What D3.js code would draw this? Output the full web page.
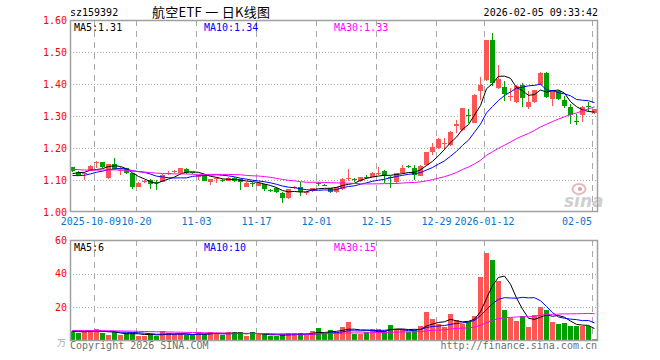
<!DOCTYPE html>
<html><head><meta charset="utf-8">
<script src="https://cdn.jsdelivr.net/npm/d3@7"></script>
<style>body{margin:0;background:#fff;} svg{display:block;}</style>
</head><body><svg id="c" width="660" height="360"></svg>
<script>
const dates = ["2025-09-25","2025-09-26","2025-09-29","2025-09-30","2025-10-09","2025-10-10","2025-10-13","2025-10-14","2025-10-15","2025-10-16","2025-10-17","2025-10-20","2025-10-21","2025-10-22","2025-10-23","2025-10-24","2025-10-27","2025-10-28","2025-10-29","2025-10-30","2025-10-31","2025-11-03","2025-11-04","2025-11-05","2025-11-06","2025-11-07","2025-11-10","2025-11-11","2025-11-12","2025-11-13","2025-11-14","2025-11-17","2025-11-18","2025-11-19","2025-11-20","2025-11-21","2025-11-24","2025-11-25","2025-11-26","2025-11-27","2025-11-28","2025-12-01","2025-12-02","2025-12-03","2025-12-04","2025-12-05","2025-12-08","2025-12-09","2025-12-10","2025-12-11","2025-12-12","2025-12-15","2025-12-16","2025-12-17","2025-12-18","2025-12-19","2025-12-22","2025-12-23","2025-12-24","2025-12-25","2025-12-26","2025-12-29","2025-12-30","2025-12-31","2026-01-05","2026-01-06","2026-01-07","2026-01-08","2026-01-09","2026-01-12","2026-01-13","2026-01-14","2026-01-15","2026-01-16","2026-01-19","2026-01-20","2026-01-21","2026-01-22","2026-01-23","2026-01-26","2026-01-27","2026-01-28","2026-01-29","2026-01-30","2026-02-02","2026-02-03","2026-02-04","2026-02-05"];
const opens = [1.140,1.125,1.117,1.129,1.153,1.155,1.105,1.149,1.129,1.136,1.121,1.081,1.093,1.100,1.094,1.095,1.121,1.125,1.121,1.134,1.124,1.111,1.113,1.092,1.104,1.099,1.098,1.106,1.102,1.079,1.091,1.084,1.087,1.070,1.074,1.060,1.043,1.076,1.077,1.061,1.066,1.091,1.085,1.074,1.062,1.071,1.105,1.102,1.095,1.110,1.110,1.121,1.128,1.109,1.092,1.121,1.143,1.139,1.113,1.147,1.185,1.199,1.213,1.209,1.268,1.256,1.304,1.279,1.378,1.412,1.537,1.390,1.390,1.361,1.344,1.396,1.328,1.344,1.399,1.435,1.354,1.378,1.350,1.328,1.283,1.302,1.330,1.308];
const highs = [1.142,1.127,1.124,1.146,1.160,1.157,1.151,1.168,1.140,1.138,1.123,1.094,1.099,1.102,1.100,1.118,1.128,1.131,1.138,1.136,1.126,1.116,1.115,1.104,1.108,1.102,1.108,1.108,1.104,1.094,1.093,1.095,1.089,1.072,1.076,1.062,1.073,1.082,1.094,1.066,1.076,1.094,1.088,1.076,1.079,1.105,1.134,1.106,1.110,1.116,1.125,1.140,1.130,1.113,1.123,1.146,1.146,1.146,1.147,1.189,1.215,1.230,1.231,1.253,1.288,1.326,1.321,1.368,1.421,1.539,1.560,1.458,1.409,1.388,1.396,1.404,1.378,1.382,1.438,1.437,1.380,1.380,1.3625,1.337,1.305,1.331,1.344,1.323];
const lows = [1.124,1.114,1.100,1.128,1.138,1.138,1.102,1.132,1.115,1.119,1.071,1.079,1.090,1.072,1.069,1.093,1.115,1.122,1.119,1.119,1.118,1.100,1.096,1.083,1.092,1.095,1.096,1.094,1.069,1.077,1.077,1.082,1.066,1.064,1.058,1.027,1.041,1.072,1.050,1.054,1.064,1.081,1.080,1.058,1.058,1.069,1.098,1.093,1.093,1.103,1.108,1.115,1.091,1.076,1.088,1.119,1.138,1.099,1.111,1.145,1.178,1.197,1.194,1.207,1.247,1.254,1.277,1.277,1.350,1.410,1.394,1.383,1.347,1.347,1.342,1.328,1.323,1.342,1.396,1.355,1.331,1.350,1.324,1.276,1.272,1.281,1.3125,1.306];
const closes = [1.126,1.116,1.121,1.144,1.156,1.140,1.149,1.134,1.132,1.121,1.076,1.092,1.096,1.088,1.092,1.116,1.123,1.127,1.136,1.121,1.122,1.114,1.098,1.102,1.106,1.098,1.106,1.096,1.092,1.092,1.089,1.092,1.072,1.069,1.060,1.043,1.071,1.078,1.060,1.063,1.074,1.089,1.083,1.062,1.077,1.103,1.107,1.100,1.108,1.108,1.123,1.123,1.112,1.107,1.121,1.136,1.141,1.116,1.145,1.1875,1.202,1.228,1.215,1.251,1.274,1.324,1.302,1.366,1.397,1.537,1.404,1.417,1.368,1.3625,1.394,1.354,1.344,1.380,1.435,1.359,1.378,1.354,1.331,1.302,1.281,1.328,1.329,1.321];
const volumes = [5.9,4.7,5.7,6.7,7.1,4.7,3.5,5.3,3.3,4.7,5.0,3.1,3.1,3.9,3.1,5.7,4.5,3.9,4.3,3.3,3.3,5.5,3.9,5.5,4.7,3.3,5.1,5.1,5.1,2.7,5.1,3.9,3.9,2.7,3.1,3.9,4.5,4.5,4.5,3.5,5.7,7.5,4.1,6.3,5.3,8.3,11.1,4.1,4.1,5.2,6.9,6.9,5.7,9.3,6.9,6.9,5.3,6.3,8.8,17.1,12.8,10.0,8.5,15.9,12.7,10.0,11.3,14.7,38.0,52.4,48.2,35.6,18.7,13.7,11.7,15.1,8.1,15.7,20.0,18.7,11.1,10.1,10.7,8.7,8.7,9.1,9.1,1.1];
// closes / volumes of the 29 sessions before the first visible one (for the moving averages)
const priorCloses = [1.15,1.16,1.155,1.145,1.14,1.135,1.13,1.14,1.15,1.155,1.145,1.14,1.135,1.14,1.15,1.145,1.14,1.135,1.13,1.145,1.12,1.11,1.10,1.105,1.105,1.101,1.116,1.109,1.148];
const priorVolumes = [6.5,7.2,5.8,6.1,6.9,5.5,6.4,7.0,6.2,5.9,6.8,6.0,6.6,5.7,6.3,7.1,6.2,5.8,6.5,6.5,7.2,6.4,6.9,6.3,6.7,5.4,6.1,5.2,5.9];
const tickDates = ["2025-10-09","2025-10-20","2025-11-03","2025-11-17","2025-12-01","2025-12-15","2025-12-29","2026-01-12","2026-02-05"];
const tickLabels = ["2025-10-09","10-20","11-03","11-17","12-01","12-15","12-29","2026-01-12","02-05"];
const priceTicks = [1.00,1.10,1.20,1.30,1.40,1.50,1.60];
const volTicks = [20,40,60];
const maPeriods = [5,10,30];
const maColors = ["#000000","#0000ff","#ff00ff"];
const priceLegendValues = ["1.31","1.34","1.33"];
const volLegendValues = ["6","10","15"];

const svg = d3.select('#c');
const mono = "'DejaVu Sans Mono', monospace";
const UP = "#ff5555", DOWN = "#00a000", GRID = "#a8a8a8", FRAME = "#a0a0a0";
const L = 70, R = 598;
const x = d3.scaleBand().domain(dates).range([L, R]).padding(0);
const y = d3.scaleLinear().domain([1.0, 1.6]).range([212, 20]);
const yv = d3.scaleLinear().domain([0, 60]).range([341, 240]);
const cx = d => x(d) + 2.5;
const idx = d3.range(dates.length);
const isUp = i => closes[i] >= opens[i];
const col = i => isUp(i) ? UP : DOWN;

function movingAvg(prior, vals, n) {
  const all = prior.concat(vals), off = prior.length;
  return vals.map((v, i) => d3.mean(all.slice(off + i - n + 1, off + i + 1)));
}

// header
svg.append('text').attr('x', 70).attr('y', 16).attr('font-family', mono).attr('font-size', 10).attr('fill', '#000').text('sz159392');
svg.append('text').attr('x', 152).attr('y', 17).attr('font-family', "'Noto Sans CJK SC', sans-serif").attr('font-size', 13).attr('fill', '#000')
  .attr('textLength', 118).attr('lengthAdjust', 'spacing').text('航空ETF 一 日K线图');
svg.append('text').attr('x', 598).attr('y', 16).attr('text-anchor', 'end').attr('font-family', mono).attr('font-size', 10).attr('fill', '#000').text('2026-02-05 09:33:42');

// grids
const gPrice = svg.append('g');
gPrice.selectAll('line.h').data(priceTicks.filter(t => t > 1.0 && t < 1.6)).join('line')
  .attr('x1', L).attr('x2', R).attr('y1', d => Math.round(y(d)) + 0.5).attr('y2', d => Math.round(y(d)) + 0.5)
  .attr('stroke', GRID).attr('stroke-dasharray', '1,2');
gPrice.selectAll('line.v').data(tickDates).join('line')
  .attr('x1', d => x(d) + 0.5).attr('x2', d => x(d) + 0.5).attr('y1', 20).attr('y2', 212)
  .attr('stroke', GRID).attr('stroke-dasharray', '6,5');
const gVol = svg.append('g');
gVol.selectAll('line.h').data(volTicks.filter(t => t < 60)).join('line')
  .attr('x1', L).attr('x2', R).attr('y1', d => Math.round(yv(d)) + 0.5).attr('y2', d => Math.round(yv(d)) + 0.5)
  .attr('stroke', GRID).attr('stroke-dasharray', '1,2');
gVol.selectAll('line.v').data(tickDates).join('line')
  .attr('x1', d => x(d) + 0.5).attr('x2', d => x(d) + 0.5).attr('y1', 240).attr('y2', 341)
  .attr('stroke', GRID).attr('stroke-dasharray', '6,5');

// watermark
const wm = svg.append('g');
wm.append('ellipse').attr('cx', 579).attr('cy', 189).attr('rx', 6.5).attr('ry', 5).attr('fill', 'none').attr('stroke', '#e6b8b8').attr('stroke-width', 2);
wm.append('circle').attr('cx', 580).attr('cy', 189).attr('r', 2).attr('fill', '#e0a0a0');
wm.append('text').attr('x', 564).attr('y', 207).attr('font-family', "'DejaVu Sans', sans-serif").attr('font-style', 'italic').attr('font-weight', 'bold').attr('font-size', 17).attr('fill', '#cfcfcf').text('sina');

// candles
const gC = svg.append('g').attr('shape-rendering', 'crispEdges');
gC.selectAll('line').data(idx).join('line')
  .attr('x1', i => cx(dates[i])).attr('x2', i => cx(dates[i]))
  .attr('y1', i => y(highs[i])).attr('y2', i => y(lows[i]))
  .attr('stroke', col).attr('stroke-width', 1);
gC.selectAll('rect').data(idx).join('rect')
  .attr('x', i => x(dates[i])).attr('width', 5)
  .attr('y', i => Math.round(y(Math.max(opens[i], closes[i]))))
  .attr('height', i => Math.max(1, Math.round(Math.abs(y(opens[i]) - y(closes[i])))))
  .attr('fill', col);

// price MAs
maPeriods.forEach((n, k) => {
  const ma = movingAvg(priorCloses, closes, n);
  svg.append('path').datum(idx).attr('fill', 'none').attr('stroke', maColors[k]).attr('stroke-width', 1)
    .attr('d', d3.line().x(i => cx(dates[i])).y(i => y(ma[i])));
});

// volume bars
const gV = svg.append('g').attr('shape-rendering', 'crispEdges');
gV.selectAll('rect').data(idx).join('rect')
  .attr('x', i => x(dates[i])).attr('width', 5)
  .attr('y', i => yv(volumes[i])).attr('height', i => yv(0) - yv(volumes[i]))
  .attr('fill', col);
maPeriods.forEach((n, k) => {
  const ma = movingAvg(priorVolumes, volumes, n);
  svg.append('path').datum(idx).attr('fill', 'none').attr('stroke', maColors[k]).attr('stroke-width', 1)
    .attr('d', d3.line().x(i => cx(dates[i])).y(i => yv(ma[i])));
});

// frames
svg.append('rect').attr('x', L + 0.5).attr('y', 20.5).attr('width', R - L - 1).attr('height', 191).attr('fill', 'none').attr('stroke', FRAME).attr('stroke-width', 1.5);
svg.append('rect').attr('x', L + 0.5).attr('y', 240.5).attr('width', R - L - 1).attr('height', 100).attr('fill', 'none').attr('stroke', FRAME).attr('stroke-width', 1.5);

// axis labels
svg.selectAll('text.py').data(priceTicks).join('text').attr('class', 'py')
  .attr('x', 67).attr('y', d => y(d) + 3.5).attr('text-anchor', 'end')
  .attr('font-family', mono).attr('font-size', 10).attr('fill', '#ff0000').text(d => d.toFixed(2));
svg.selectAll('text.vy').data(volTicks).join('text').attr('class', 'vy')
  .attr('x', 67).attr('y', d => yv(d) + 3.5).attr('text-anchor', 'end')
  .attr('font-family', mono).attr('font-size', 10).attr('fill', '#ff0000').text(d => d);
svg.append('text').attr('x', 66).attr('y', 346).attr('text-anchor', 'end').attr('font-family', "'Noto Sans CJK SC', sans-serif").attr('font-size', 9).attr('fill', '#aaaaaa').text('万');
const last = tickDates.length - 1;
svg.selectAll('text.xl').data(tickDates).join('text').attr('class', 'xl')
  .attr('x', (d, i) => i === 0 ? 121 : i === last ? 592 : x(d) + 0.5)
  .attr('text-anchor', (d, i) => i === 0 || i === last ? 'end' : 'middle')
  .attr('y', 225).attr('font-family', mono).attr('font-size', 10).attr('fill', '#0a74cc')
  .text((d, i) => tickLabels[i]);

// legends
const legX = [74, 204, 334];
maPeriods.forEach((n, k) => {
  svg.append('text').attr('x', legX[k]).attr('y', 31).attr('font-family', mono).attr('font-size', 10).attr('fill', maColors[k]).text('MA' + n + ':' + priceLegendValues[k]);
  svg.append('text').attr('x', legX[k]).attr('y', 251).attr('font-family', mono).attr('font-size', 10).attr('fill', maColors[k]).text('MA' + n + ':' + volLegendValues[k]);
});

// footer
svg.append('text').attr('x', 70).attr('y', 349).attr('font-family', mono).attr('font-size', 10).attr('fill', '#707070').text('Copyright 2026 SINA.COM');
svg.append('text').attr('x', 597).attr('y', 349).attr('text-anchor', 'end').attr('font-family', mono).attr('font-size', 10).attr('fill', '#707070').text('http://finance.sina.com.cn');
</script></body></html>
